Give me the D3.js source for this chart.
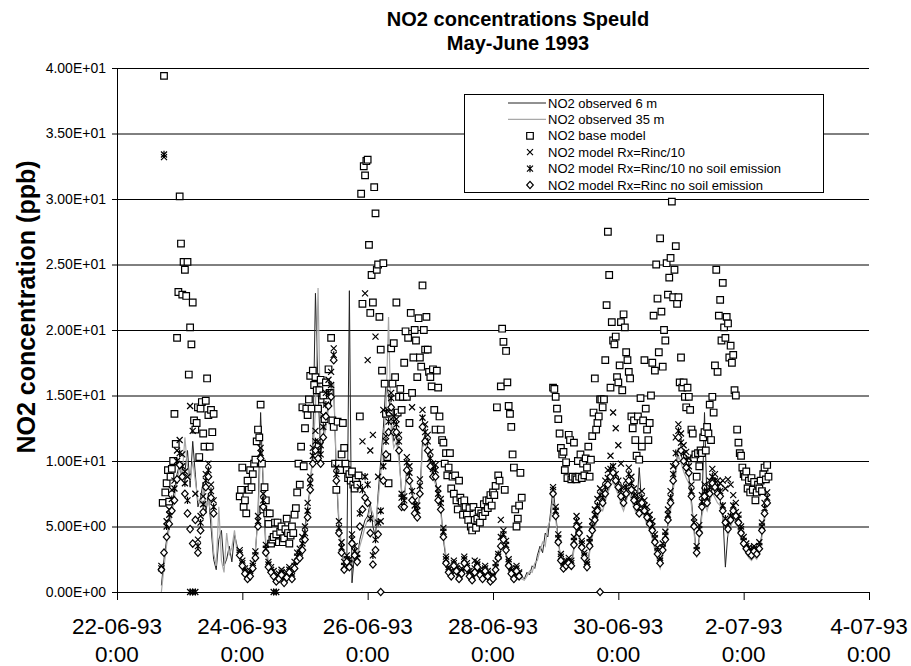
<!DOCTYPE html>
<html><head><meta charset="utf-8">
<script src="https://cdn.jsdelivr.net/npm/d3@7"></script>
<style>
html,body{margin:0;padding:0;background:#fff;}
svg{display:block;font-family:"Liberation Sans",Arial,sans-serif;}
</style></head><body>
<svg id="chart" width="911" height="666"></svg>
<script>
const _ = null;
// time axis: hours since 22-06-93 0:00
const startHour = 16;           // first hourly / half-hourly sample
const xTickHours = [0, 48, 96, 144, 192, 240, 288];
const xTickDates = ["22-06-93", "24-06-93", "26-06-93", "28-06-93", "30-06-93", "2-07-93", "4-07-93"];
const xTickTimes = ["0:00", "0:00", "0:00", "0:00", "0:00", "0:00", "0:00"];
const yTickValues = [0, 5, 10, 15, 20, 25, 30, 35, 40];
const chartTitle = ["NO2 concentrations Speuld", "May-June 1993"];
const yTitle = "NO2 concentration (ppb)";
const legendNames = ["NO2 observed 6 m", "NO2 observed 35 m", "NO2 base model",
  "NO2 model Rx=Rinc/10", "NO2 model Rx=Rinc/10 no soil emission", "NO2 model Rx=Rinc no soil emission"];

// hourly observed 6 m (from 16:00 on 22-06)
const obs6m = [
 _,0.5,2.5,4.0,5.2,6.5,7.8,9.0,9.8,8.5,9.2,10.8,
 8.0,11.5,9.0,6.5,7.2,8.4,6.0,7.5,5.0,2.5,1.7,4.0,
 4.7,2.0,2.5,3.5,2.3,4.4,3.5,2.8,2.0,1.5,1.2,1.4,
 2.0,3.0,6.0,13.7,8.0,3.2,2.0,1.6,1.3,1.0,1.2,1.0,
 0.9,1.2,1.6,1.3,1.9,2.6,3.0,3.8,5.0,6.5,8.0,11.0,
 22.8,15.5,10.5,12.0,13.0,14.5,15.0,15.5,9.0,5.0,3.2,2.0,
 1.8,23.0,0.7,3.0,2.5,4.0,4.8,5.5,5.8,6.8,5.0,4.2,
 7.5,10.0,12.5,16.0,15.0,13.0,11.5,12.0,10.5,7.5,7.0,9.5,
 8.5,7.5,6.5,6.0,7.5,11.5,12.0,11.0,9.8,9.0,8.5,7.5,
 6.5,4.0,2.5,1.5,1.2,1.8,1.4,0.9,1.2,2.0,1.5,1.0,
 0.7,1.2,1.6,1.0,0.8,1.3,1.0,0.6,0.8,1.4,2.4,3.2,
 3.5,2.8,1.8,1.2,0.8,1.3,1.0,1.2,1.0,1.5,1.3,2.0,
 1.8,2.8,3.5,3.0,4.5,4.2,6.0,8.0,6.0,4.0,2.5,1.8,
 2.0,2.2,2.0,3.5,5.0,4.5,3.2,2.5,1.8,3.2,4.5,5.2,
 6.0,6.8,6.5,7.2,8.0,8.5,8.8,8.2,7.8,7.0,6.5,7.2,
 8.0,7.5,6.8,6.2,9.5,6.5,6.0,5.4,5.0,4.4,3.5,2.6,
 2.0,3.0,3.8,5.2,6.5,8.2,9.5,11.0,10.5,9.8,9.2,8.8,
 7.0,4.8,2.8,4.2,6.2,13.7,6.5,7.2,8.0,7.6,7.2,7.0,
 6.0,1.9,4.6,5.2,5.9,5.5,5.0,4.3,3.5,3.1,2.8,2.6,
 2.9,2.7,3.1,4.5,5.8,7.0,_,_,_,_,_,_
];
// hourly observed 35 m
const obs35m = [
 _,0.0,1.9,3.6,4.8,6.0,7.2,8.5,9.5,9.0,11.8,9.5,
 8.5,10.0,8.5,7.0,6.8,7.8,6.5,7.0,6.0,3.0,2.0,6.5,
 2.4,1.5,4.5,2.8,3.4,4.7,3.0,3.0,2.2,1.7,1.4,1.6,
 2.2,3.2,5.5,11.0,9.0,3.8,2.3,1.8,1.5,1.2,1.4,1.2,
 1.0,1.4,1.8,1.5,2.1,2.8,3.2,3.5,4.6,6.2,7.8,10.5,
 14.0,23.2,12.0,11.5,12.5,14.0,15.2,16.0,9.5,5.5,3.5,2.2,
 2.0,1.8,2.0,3.5,2.8,3.5,4.2,5.0,5.5,6.5,6.0,5.0,
 7.0,9.0,11.5,14.0,21.0,12.5,11.0,11.5,10.0,7.8,7.2,9.0,
 8.8,7.8,6.8,6.2,7.2,11.0,11.5,10.5,9.5,8.8,8.2,7.2,
 6.0,4.2,2.8,1.7,1.4,2.0,1.6,1.1,1.4,2.2,1.7,1.2,
 0.9,1.4,1.8,1.2,1.0,1.5,1.2,0.8,1.0,1.6,2.6,3.4,
 3.7,3.0,2.0,1.4,1.0,1.5,1.2,1.0,0.9,1.2,1.6,1.5,
 2.2,2.4,3.2,3.8,3.5,5.0,5.5,7.2,5.6,3.8,2.4,1.6,
 1.8,2.0,1.8,3.2,4.6,4.2,3.0,2.3,1.6,3.0,4.2,4.9,
 5.6,6.4,6.2,6.9,7.6,8.1,8.4,7.9,7.4,6.7,6.2,6.9,
 7.6,7.1,6.4,5.9,6.0,6.1,5.7,5.1,4.7,4.1,3.2,2.4,
 1.8,2.8,3.6,4.9,6.2,7.8,9.0,10.4,9.9,9.2,8.7,8.3,
 6.6,4.5,2.6,3.9,5.8,6.8,6.2,6.9,7.6,7.2,6.8,6.6,
 5.7,5.0,4.3,4.9,5.6,5.2,4.7,4.0,3.3,2.9,2.6,2.4,
 2.7,2.5,2.9,4.2,5.5,7.0,_,_,_,_,_,_
];
// half-hourly base model (from 16:00 on 22-06)
const baseModel = [
 _,_,_,6.8,39.4,7.6,8.3,9.3,6.9,8.8,9.4,10.0,
 13.6,11.3,19.4,22.9,30.2,26.6,22.7,25.2,24.6,22.6,25.2,16.6,
 20.2,18.9,22.1,13.1,12.4,12.9,14.1,10.3,14.0,14.5,12.1,11.1,
 14.6,16.3,13.5,11.1,13.9,12.2,13.6,_,_,_,_,_,
 _,_,_,_,_,_,_,_,_,_,_,_,
 _,_,7.3,7.8,9.5,6.5,7.0,6.0,8.5,7.8,9.3,8.0,
 9.0,9.8,10.1,11.5,12.4,11.8,14.3,9.8,6.3,8.0,7.0,6.0,
 5.2,6.0,3.7,4.0,4.2,5.3,4.4,5.3,3.8,4.6,5.0,3.8,
 4.1,4.8,5.6,4.5,3.7,4.3,5.0,4.5,5.9,6.4,7.6,9.8,
 8.2,11.1,14.1,9.6,12.5,14.0,13.5,14.7,16.5,14.0,16.9,15.8,
 16.4,15.4,14.0,15.4,16.2,14.7,15.0,13.2,16.0,14.5,17.0,15.2,
 19.4,13.1,12.6,9.8,7.8,13.0,9.8,9.3,10.5,12.9,11.0,9.8,
 9.3,8.7,9.0,8.5,9.2,8.2,7.9,8.6,8.2,8.9,13.4,30.4,
 22.0,32.5,31.8,32.9,33.0,26.5,21.3,24.2,22.1,30.9,28.9,24.6,
 25.0,21.0,18.5,16.9,25.1,15.9,13.6,10.3,8.3,13.7,18.6,15.9,
 19.0,16.4,22.1,13.7,14.9,15.5,13.9,14.9,17.5,19.9,14.9,19.4,
 12.9,21.3,15.2,17.9,20.0,19.2,16.4,20.9,17.9,17.2,23.4,20.0,
 18.5,21.0,18.5,16.8,16.4,15.7,17.0,13.9,12.4,16.9,15.6,13.4,
 12.4,11.6,11.4,9.8,10.6,8.9,9.5,10.6,7.9,8.8,7.5,8.9,
 7.0,6.3,8.5,7.2,6.9,5.9,7.0,6.5,5.9,5.5,6.4,5.0,
 4.7,6.5,5.5,4.9,5.6,6.2,5.3,6.0,5.8,6.7,6.1,7.0,
 6.4,7.0,7.4,6.6,7.6,7.4,8.1,14.1,8.9,8.5,15.7,20.1,
 19.1,7.8,18.4,16.0,14.2,13.6,12.6,10.5,9.5,6.3,5.0,5.6,
 6.6,9.1,7.2,_,_,_,_,_,_,_,_,_,
 _,_,_,_,_,_,_,_,_,_,_,_,
 _,_,15.6,15.5,14.9,14.0,13.2,12.1,11.0,10.5,10.7,9.3,
 9.9,8.7,12.0,11.6,8.6,8.8,11.4,8.7,8.6,10.0,8.8,10.5,
 8.7,9.8,8.9,10.2,9.5,11.1,8.8,10.1,11.9,13.7,16.3,12.4,
 12.9,13.4,14.7,14.7,14.1,14.7,17.7,21.9,27.5,24.2,15.6,20.6,
 19.2,18.9,19.5,16.4,16.0,17.3,20.6,15.4,21.2,20.2,18.3,17.7,
 16.8,16.3,13.4,12.5,13.1,11.6,10.4,13.4,10.1,14.8,11.1,13.1,
 17.7,14.0,12.4,11.6,12.9,15.0,17.5,21.1,16.9,25.0,22.4,18.3,
 27.0,21.4,17.2,20.0,19.2,25.1,22.7,24.0,25.5,29.8,22.5,24.6,
 26.4,22.0,22.5,16.0,17.9,15.6,16.0,14.9,14.1,15.6,14.9,13.9,
 12.4,12.1,10.2,10.5,8.8,10.6,9.6,10.8,10.6,11.8,12.2,10.8,
 12.6,12.1,14.3,11.6,14.9,13.7,17.3,24.6,16.8,21.1,22.3,19.2,
 23.6,20.2,19.4,21.0,20.5,17.9,18.8,17.5,18.1,15.4,15.0,12.4,
 11.4,10.6,10.4,9.5,9.0,8.8,9.2,7.9,8.5,7.6,8.7,7.8,
 8.4,7.0,7.6,8.2,7.9,8.5,7.7,9.0,9.5,8.6,9.7,8.8
];
// hourly model Rx=Rinc/10
const rinc10 = [
 _,2.0,33.2,5.4,6.3,7.8,8.5,10.8,11.6,10.5,9.2,8.8,
 14.2,12.3,7.5,4.0,5.8,7.3,9.0,9.8,8.2,7.0,_,_,
 _,_,_,_,_,_,_,3.2,2.4,1.8,1.4,1.6,
 2.2,3.1,5.8,11.0,7.5,3.6,2.3,1.9,1.6,1.2,1.4,1.7,
 1.0,1.5,1.9,1.4,2.3,3.0,3.3,4.2,5.0,6.8,8.8,11.0,
 12.3,11.5,11.2,13.5,15.2,16.2,16.8,18.6,9.5,5.4,3.8,2.3,
 2.8,2.5,4.4,3.5,2.9,8.0,11.5,22.8,17.7,10.8,12.0,19.5,
 8.8,5.4,13.9,11.9,13.8,15.2,13.4,13.2,12.0,7.5,7.3,10.3,
 9.6,14.1,7.0,6.6,8.6,13.9,12.8,12.0,10.7,9.8,9.7,7.9,
 7.1,4.9,2.7,1.9,1.6,2.4,2.0,1.3,1.8,2.7,2.2,1.6,
 1.2,2.4,2.3,1.7,1.3,2.0,1.6,1.1,1.3,2.2,2.7,5.5,
 4.7,3.9,2.5,1.8,1.3,2.0,1.5,_,_,_,_,_,
 _,_,_,_,_,_,_,8.0,6.5,4.4,2.9,2.2,
 2.4,2.6,2.4,4.2,5.8,5.1,3.9,3.0,2.3,4.1,5.4,6.3,
 7.1,7.9,7.6,8.5,9.3,10.4,13.7,12.5,11.2,9.8,8.0,8.5,
 9.5,8.8,7.9,7.4,6.9,7.7,7.0,6.5,5.9,5.4,4.4,3.4,
 2.6,3.7,4.6,6.3,7.7,9.6,11.8,12.8,12.1,11.2,10.7,10.2,
 8.2,5.7,3.5,5.1,7.4,8.2,7.7,8.5,9.4,9.0,8.5,8.3,
 8.5,7.9,8.6,8.2,7.4,6.8,5.9,5.0,4.2,3.7,3.4,3.2,
 3.5,3.3,3.8,5.3,6.8,7.6,_,_,_,_,_,_
];
// hourly model Rx=Rinc/10 no soil emission
const rinc10NoSoil = [
 _,1.8,33.4,5.0,5.9,7.1,7.9,10.0,10.6,9.6,8.3,7.0,
 0,0,0,3.5,5.3,6.7,8.5,9.3,7.7,6.5,_,_,
 _,_,_,_,_,_,_,3.0,2.2,1.6,1.2,1.4,
 2.0,2.8,5.4,10.6,7.0,3.3,2.1,1.7,0,0,1.2,1.5,
 0.9,1.3,1.7,1.2,2.0,2.7,3.0,3.7,4.5,6.2,8.3,10.4,
 11.5,10.8,10.5,12.6,14.3,15.2,15.8,18.1,9.0,4.9,3.4,2.0,
 2.5,2.2,4.0,3.1,2.6,6.0,7.8,8.8,8.2,5.6,2.8,4.0,
 5.3,6.2,9.6,11.5,13.0,14.8,13.0,12.8,11.5,7.2,7.0,9.9,
 9.1,7.7,6.6,6.2,8.1,13.3,12.2,11.5,10.2,9.4,9.3,7.5,
 6.8,4.6,2.5,1.7,1.4,2.2,1.8,1.2,1.6,2.5,2.0,1.4,
 1.1,1.8,2.1,1.5,1.2,1.8,1.4,1.0,1.2,1.9,2.9,4.2,
 4.4,3.6,2.3,1.6,1.2,1.8,1.4,_,_,_,_,_,
 _,_,_,_,_,_,_,7.8,6.2,4.1,2.7,2.0,
 2.2,2.4,2.2,3.9,5.4,4.8,3.7,2.8,2.1,3.8,5.0,5.9,
 6.6,7.4,7.2,8.0,8.7,9.4,9.6,9.0,8.5,7.8,7.3,8.0,
 9.0,8.3,7.4,7.0,6.4,7.2,6.6,6.1,5.5,5.0,4.1,3.1,
 2.4,3.4,4.3,5.9,7.2,9.0,10.6,12.3,11.4,10.6,10.1,9.6,
 7.7,5.3,3.2,4.8,6.9,7.7,7.2,8.0,8.8,8.5,8.0,7.7,
 6.6,5.6,5.1,5.8,6.6,6.1,5.6,4.8,3.9,3.5,3.2,3.0,
 3.3,3.1,3.5,5.0,6.4,7.2,_,_,_,_,_,_
];
// hourly model Rx=Rinc no soil emission
const rincNoSoil = [
 _,1.7,3.0,4.2,5.2,6.2,7.0,8.6,9.7,8.8,7.5,6.0,
 4.8,3.7,5.5,3.0,4.7,6.1,8.0,8.8,7.2,6.0,_,_,
 _,_,_,_,_,_,_,2.8,2.0,1.4,1.0,1.2,
 1.8,2.6,5.0,10.2,6.5,3.0,1.9,1.5,1.2,0.8,1.0,1.3,
 0.7,1.1,1.5,1.0,1.8,2.4,2.6,3.2,4.0,5.7,7.8,9.8,
 10.8,10.2,9.8,11.8,13.4,14.2,14.9,17.7,8.5,4.5,3.0,1.7,
 2.3,1.9,3.7,2.8,2.3,5.0,6.3,7.2,6.8,4.5,2.1,3.2,
 4.4,0,8.5,10.5,12.2,14.1,12.2,12.2,10.8,6.5,6.5,9.3,
 8.5,7.0,6.0,5.7,7.5,12.6,11.5,10.8,9.6,8.8,8.8,7.0,
 6.3,4.2,2.2,1.5,1.2,2.0,1.6,1.0,1.4,2.2,1.8,1.2,
 0.9,1.5,1.9,1.3,1.0,1.6,1.2,0.8,1.0,1.7,2.6,3.5,
 4.0,3.2,2.0,1.4,1.0,1.6,1.2,_,_,_,_,_,
 _,_,_,_,_,_,_,7.5,5.8,3.8,2.4,1.8,
 2.0,2.2,2.0,3.6,5.0,4.5,3.4,2.6,1.9,3.5,4.7,5.5,
 6.2,0,6.8,7.5,8.2,8.8,9.1,8.5,8.0,7.3,6.8,7.5,
 8.5,7.8,7.0,6.5,6.0,6.8,6.2,5.7,5.2,4.7,3.8,2.9,
 2.2,3.2,4.0,5.5,6.8,8.5,9.8,11.8,10.8,10.0,9.5,9.1,
 7.3,5.0,3.0,4.5,6.5,7.3,6.8,7.5,8.3,8.0,7.5,7.3,
 6.2,5.3,4.8,5.5,6.2,5.8,5.3,4.5,3.7,3.3,3.0,2.8,
 3.1,2.9,3.3,4.7,6.0,6.8,_,_,_,_,_,_
];

// ---------- drawing ----------
const svg = d3.select("#chart");
const x = d3.scaleLinear().domain([0, 288]).range([117, 869]);
const y = d3.scaleLinear().domain([0, 40]).range([592, 68]);

function toPoints(arr, step) {
  return arr.map((v, i) => ({h: startHour + i * step, v})).filter(d => d.v !== null);
}
function sci(v) {
  if (v === 0) return "0.00E+00";
  const e = Math.floor(Math.log10(v));
  const m = v / Math.pow(10, e);
  return m.toFixed(2) + "E+" + String(e).padStart(2, "0");
}

// gridlines
svg.append("g").selectAll("line").data(yTickValues.filter(v => v > 0)).join("line")
  .attr("x1", x(0)).attr("x2", x(288))
  .attr("y1", d => y(d) + 0.5).attr("y2", d => y(d) + 0.5)
  .attr("stroke", "#000").attr("stroke-width", 1);

// axes
const yAxis = svg.append("g").attr("transform", `translate(${x(0)},0)`)
  .call(d3.axisLeft(y).tickValues(yTickValues).tickSize(5).tickSizeOuter(0).tickPadding(6).tickFormat(sci));
yAxis.selectAll("text").attr("font-size", 14).attr("fill", "#000")
  .attr("font-family", '"Liberation Sans",Arial,sans-serif');
yAxis.selectAll("line,path").attr("stroke", "#000");

const xAxis = svg.append("g").attr("transform", `translate(0,${y(0)})`)
  .call(d3.axisBottom(x).tickValues(xTickHours).tickSize(8).tickSizeOuter(0).tickFormat(""));
xAxis.selectAll("line,path").attr("stroke", "#000");
const xl = svg.append("g").selectAll("text").data(xTickHours).join("text")
  .attr("x", d => x(d)).attr("text-anchor", "middle")
  .attr("font-size", 22.5).attr("fill", "#000");
xl.append("tspan").attr("x", d => x(d)).attr("y", 634).text((d, i) => xTickDates[i]);
xl.append("tspan").attr("x", d => x(d)).attr("y", 662).text((d, i) => xTickTimes[i]);

// titles
svg.append("g").selectAll("text").data(chartTitle).join("text")
  .attr("x", 518).attr("y", (d, i) => 26 + i * 24).attr("text-anchor", "middle")
  .attr("font-size", 20).attr("font-weight", "bold").text(d => d);
svg.append("text").attr("transform", "translate(35,307) rotate(-90)")
  .attr("text-anchor", "middle").attr("font-size", 25).attr("font-weight", "bold").text(yTitle);

// series
const line = d3.line().defined(d => d.v !== null).x(d => x(d.h)).y(d => y(d.v));
const lineData = arr => arr.map((v, i) => ({h: startHour + i, v}));
const plot = svg.append("g");
plot.append("path").datum(lineData(obs6m)).attr("d", line)
  .attr("fill", "none").attr("stroke", "#222").attr("stroke-width", 1);
plot.append("path").datum(lineData(obs35m)).attr("d", line)
  .attr("fill", "none").attr("stroke", "#a8a8a8").attr("stroke-width", 1.2);

const shapes = {
  square: "M-3.3,-3.3h6.6v6.6h-6.6z",
  cross: "M-3,-3L3,3M-3,3L3,-3",
  star: "M-3,-3L3,3M-3,3L3,-3M0,-3.6V3.6",
  diamond: "M0,-3.7L3.3,0L0,3.7L-3.3,0Z"
};
function drawMarkers(pts, shape, fill) {
  plot.append("g").selectAll("path").data(pts).join("path")
    .attr("transform", d => `translate(${x(d.h)},${y(d.v)})`)
    .attr("d", shapes[shape]).attr("fill", fill)
    .attr("stroke", "#000").attr("stroke-width", 1.2);
}
drawMarkers(toPoints(baseModel, 0.5), "square", "#fff");
drawMarkers(toPoints(rinc10, 1), "cross", "none");
drawMarkers(toPoints(rinc10NoSoil, 1), "star", "none");
drawMarkers(toPoints(rincNoSoil, 1), "diamond", "#fff");

// legend
const lg = svg.append("g");
lg.append("rect").attr("x", 464.5).attr("y", 94.5).attr("width", 359).attr("height", 98)
  .attr("fill", "#fff").attr("stroke", "#000").attr("stroke-width", 1);
const legendY = legendNames.map((d, i) => 103 + i * 16.4);
lg.append("line").attr("x1", 508).attr("x2", 546).attr("y1", legendY[0]).attr("y2", legendY[0])
  .attr("stroke", "#222").attr("stroke-width", 1);
lg.append("line").attr("x1", 508).attr("x2", 546).attr("y1", legendY[1]).attr("y2", legendY[1])
  .attr("stroke", "#a8a8a8").attr("stroke-width", 1.2);
[["square", "#fff"], ["cross", "none"], ["star", "none"], ["diamond", "#fff"]].forEach((s, i) => {
  lg.append("path").attr("transform", `translate(530,${legendY[i + 2]})`)
    .attr("d", shapes[s[0]]).attr("fill", s[1]).attr("stroke", "#000").attr("stroke-width", 1.2);
});
lg.selectAll("text").data(legendNames).join("text")
  .attr("x", 548).attr("y", (d, i) => legendY[i]).attr("dy", "0.35em")
  .attr("font-size", 13).attr("fill", "#000").text(d => d);
</script>
</body></html>
